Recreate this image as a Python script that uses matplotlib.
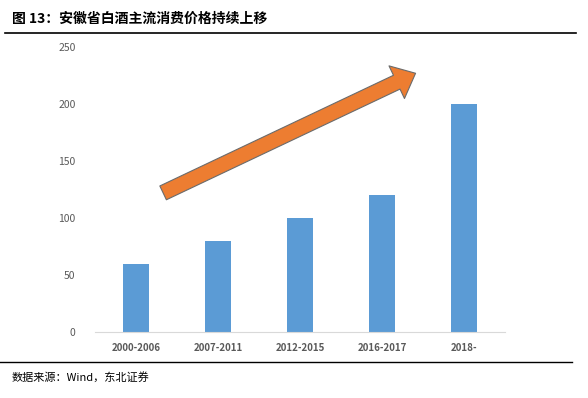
import matplotlib.pyplot as plt
from matplotlib.patches import FancyArrowPatch
from matplotlib.lines import Line2D

plt.rcParams['font.family'] = ['Noto Sans CJK SC', 'DejaVu Sans']

categories = ['2000-2006', '2007-2011', '2012-2015', '2016-2017', '2018-']
values = [60, 80, 100, 120, 200]
yticks = [0, 50, 100, 150, 200, 250]

fig = plt.figure(figsize=(5.88, 3.98), dpi=100)
ax = fig.add_axes([95 / 588, 1 - 332 / 398, 410 / 588, 285 / 398])

x = range(len(categories))
ax.bar(x, values, width=0.32, color='#5B9BD5', zorder=2)

ax.set_xlim(-0.5, 4.5)
ax.set_ylim(0, 250)
ax.set_yticks(yticks)
ax.set_xticks(list(x))
ax.set_xticklabels(categories, fontsize=7, fontweight='bold', color='#595959')
ax.tick_params(axis='y', labelsize=7.5, colors='#595959', length=0, pad=14)
ax.tick_params(axis='x', length=0, pad=8)
for s in ['top', 'right', 'left']:
    ax.spines[s].set_visible(False)
ax.spines['bottom'].set_color('#d9d9d9')

# trend arrow
arrow = FancyArrowPatch((0.30, 121), (3.44, 228),
                        arrowstyle='simple,head_width=2.6,head_length=1.5,tail_width=1.1',
                        mutation_scale=10, facecolor='#ED7D31', edgecolor='#6b6b6b',
                        linewidth=0.8, zorder=3)
ax.add_patch(arrow)

fig.text(12 / 588, 1 - 19 / 398, '图 13：安徽省白酒主流消费价格持续上移',
         fontsize=10, fontweight='bold', va='center', ha='left')
fig.add_artist(Line2D([5 / 588, 576 / 588], [1 - 33 / 398] * 2, color='black', linewidth=1.2))
fig.add_artist(Line2D([0, 572 / 588], [1 - 362 / 398] * 2, color='black', linewidth=1.0))
fig.text(12 / 588, 1 - 377 / 398, '数据来源：Wind，东北证券',
         fontsize=8, va='center', ha='left')

fig.savefig('out.png', dpi=100)
